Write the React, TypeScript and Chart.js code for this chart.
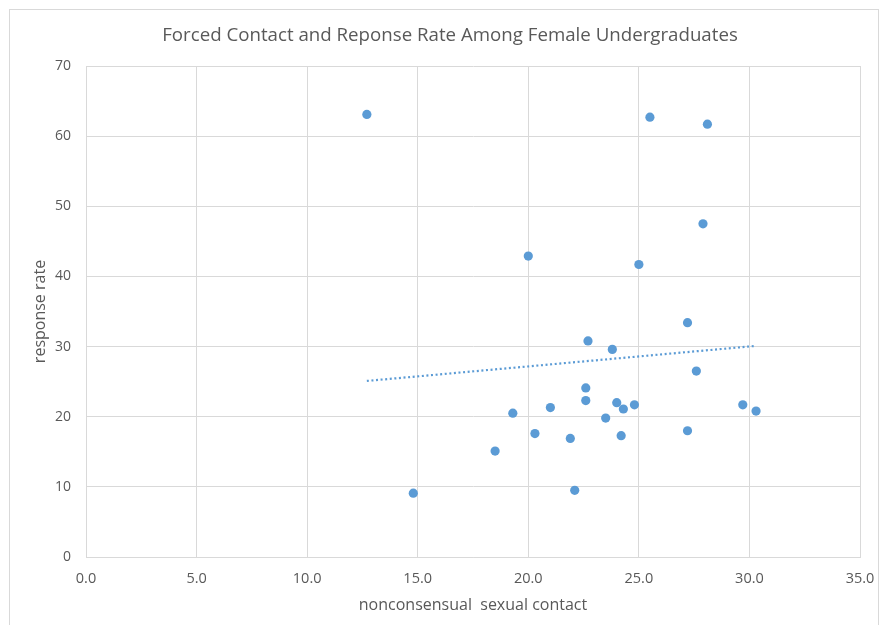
import React, { useEffect, useRef } from "react";
import { Chart, registerables } from "chart.js";

Chart.register(...registerables);

const titleText = "Forced Contact and Reponse Rate Among Female Undergraduates";
const xAxisTitle = "nonconsensual  sexual contact";
const yAxisTitle = "response rate";

const contactValues = [12.7, 25.5, 28.1, 27.9, 20.0, 25.0, 27.2, 22.7, 23.8, 27.6, 22.6, 22.6, 24.0, 24.3, 24.8, 21.0, 19.3, 29.7, 30.3, 23.5, 20.3, 21.9, 24.2, 27.2, 18.5, 14.8, 22.1];
const responseValues = [63.1, 62.7, 61.7, 47.5, 42.9, 41.7, 33.4, 30.8, 29.6, 26.5, 24.1, 22.3, 22.0, 21.1, 21.7, 21.3, 20.5, 21.7, 20.8, 19.8, 17.6, 16.9, 17.3, 18.0, 15.1, 9.1, 9.5];

const trendX = [12.7, 30.3];
const trendY = [25.1, 30.1];

const xMin = 0;
const xMax = 35;
const xStep = 5;
const yMin = 0;
const yMax = 70;
const yStep = 10;

const BLUE = "#5B9BD5";
const TEXT = "#595959";
const GRID = "#d9d9d9";
const FONT = "'Open Sans', sans-serif";

export default function App() {
  const ref = useRef<HTMLCanvasElement | null>(null);
  useEffect(() => {
    if (!ref.current) return;
    const chart = new Chart(ref.current, {
      type: "scatter",
      data: {
        datasets: [
          {
            label: "points",
            data: contactValues.map((x, i) => ({ x, y: responseValues[i] })),
            backgroundColor: BLUE,
            borderWidth: 0,
            pointRadius: 4.6,
            order: 1,
          },
          {
            label: "trend",
            type: "line",
            data: trendX.map((x, i) => ({ x, y: trendY[i] })),
            borderColor: BLUE,
            borderWidth: 2.2,
            borderDash: [2, 2.6],
            pointRadius: 0,
            fill: false,
            order: 0,
          } as any,
        ],
      },
      options: {
        animation: false,
        responsive: false,
        maintainAspectRatio: false,
        layout: { padding: { left: 18, right: 0, top: 0, bottom: 0 } },
        plugins: {
          legend: { display: false },
          tooltip: { enabled: false },
          title: {
            display: true,
            text: titleText,
            color: TEXT,
            font: { family: FONT, size: 18.7, weight: "normal" },
            padding: { top: 24.8, bottom: 18.76 },
          },
        },
        scales: {
          x: {
            type: "linear",
            min: xMin,
            max: xMax,
            ticks: {
              stepSize: xStep,
              color: TEXT,
              font: { family: FONT, size: 14.5 },
              padding: 12.8,
              callback: (v: any) => Number(v).toFixed(1),
            },
            grid: { color: GRID, drawTicks: false },
            border: { color: GRID },
            title: {
              display: true,
              text: xAxisTitle,
              color: TEXT,
              font: { family: FONT, size: 16 },
              padding: { top: 0, bottom: 10.4 },
            },
            afterFit: (s: any) => {
              s.height = 68;
              s.paddingRight = 22;
            },
          },
          y: {
            type: "linear",
            min: yMin,
            max: yMax,
            ticks: {
              stepSize: yStep,
              color: TEXT,
              font: { family: FONT, size: 14 },
              padding: 15,
            },
            grid: { color: GRID, drawTicks: false },
            border: { color: GRID },
            title: {
              display: true,
              text: yAxisTitle,
              color: TEXT,
              font: { family: FONT, size: 16 },
              padding: { top: 12.4, bottom: 0 },
            },
            afterFit: (s: any) => {
              s.width = 68;
            },
          },
        },
      },
    });
    return () => chart.destroy();
  }, []);

  return (
    <div style={{ position: "absolute", left: 0, top: 0, width: 882, height: 625, background: "#fff" }}>
      <div
        style={{
          position: "absolute",
          left: 9,
          top: 9,
          width: 870,
          height: 625,
          borderTop: "1px solid #d9d9d9",
          borderLeft: "1px solid #d9d9d9",
          borderRight: "1px solid #d9d9d9",
          boxSizing: "border-box",
        }}
      />
      <canvas ref={ref} width={882} height={625} style={{ position: "absolute", left: 0, top: 0 }} />
    </div>
  );
}
